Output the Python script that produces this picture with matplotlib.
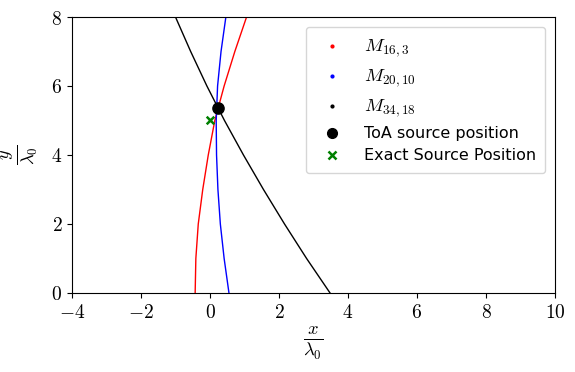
import matplotlib
matplotlib.use("Agg")
import matplotlib.pyplot as plt
from matplotlib.lines import Line2D

plt.rcParams['mathtext.fontset'] = 'cm'
plt.rcParams['font.family'] = ['DejaVu Sans']

# Curve samples (y in units of lambda0, x at that y)
y_levels = [0, 1, 2, 3, 4, 5, 6, 7, 8]
x_m16_3 = [-0.43, -0.41, -0.34, -0.21, -0.05, 0.14, 0.41, 0.72, 1.06]
x_m20_10 = [0.55, 0.41, 0.30, 0.23, 0.19, 0.18, 0.22, 0.32, 0.46]
x_m34_18 = [3.48, 2.80, 2.16, 1.55, 0.97, 0.42, -0.09, -0.56, -1.00]

toa_pos = (0.22, 5.37)
exact_pos = (0.0, 5.0)

labels = [r'$M_{16,3}$', r'$M_{20,10}$', r'$M_{34,18}$',
          'ToA source position', 'Exact Source Position']
colors = ['red', 'blue', 'black']

fig = plt.figure(figsize=(5.75, 3.72), dpi=100)
ax = fig.add_axes([0.1252, 0.2124, 0.8400, 0.7419])

for xs, c in zip([x_m16_3, x_m20_10, x_m34_18], colors):
    ax.plot(xs, y_levels, color=c, lw=1.0)

ax.scatter([toa_pos[0]], [toa_pos[1]], s=65, color='black', zorder=5)
ax.scatter([exact_pos[0]], [exact_pos[1]], marker='x', s=30, color='green',
           linewidths=1.8, zorder=5)

ax.set_xlim(-4, 10)
ax.set_ylim(0, 8)
ax.set_xticks([-4, -2, 0, 2, 4, 6, 8, 10])
ax.set_xticklabels([r'$%d$' % v for v in [-4, -2, 0, 2, 4, 6, 8, 10]])
ax.set_yticks([0, 2, 4, 6, 8])
ax.set_yticklabels([r'$%d$' % v for v in [0, 2, 4, 6, 8]])
ax.tick_params(labelsize=14)

ax.set_xlabel(r'$\frac{x}{\lambda_0}$', fontsize=19, labelpad=2)
ax.set_ylabel(r'$\frac{y}{\lambda_0}$', fontsize=19, labelpad=8)

handles = [
    Line2D([], [], ls='', marker='.', ms=4, color='red'),
    Line2D([], [], ls='', marker='.', ms=4, color='blue'),
    Line2D([], [], ls='', marker='.', ms=4, color='black'),
    Line2D([], [], ls='', marker='o', ms=7, color='black'),
    Line2D([], [], ls='', marker='x', ms=6, mew=1.8, color='green'),
]
leg = ax.legend(handles, labels, loc='upper right', fontsize=11.5,
                handletextpad=1.0, labelspacing=0.45, borderpad=0.6,
                borderaxespad=0.6)
for t in leg.get_texts()[:3]:
    t.set_fontsize(13.5)

fig.savefig('out.png', dpi=100)
